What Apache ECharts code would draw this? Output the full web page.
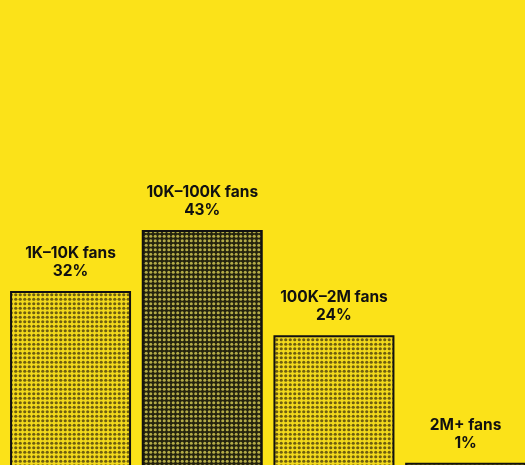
<!DOCTYPE html>
<html>
<head>
<meta charset="utf-8">
<script src="https://cdn.jsdelivr.net/npm/echarts@6/dist/echarts.min.js"></script>
<style>
  html, body { margin: 0; padding: 0; background: #FBE219; }
  #chart { width: 525px; height: 465px; }
</style>
</head>
<body>
<div id="chart"></div>
<script>
// Share of creators by audience size
const tiers = ['1K–10K fans', '10K–100K fans', '100K–2M fans', '2M+ fans'];
const shares = [32, 43, 24, 1];
const highlighted = [false, true, false, false];

// Halftone dot fill used for the bars
function halftone(bg, dot, r) {
  const c = document.createElement('canvas');
  const s = 9;
  c.width = s; c.height = s;
  const g = c.getContext('2d');
  g.fillStyle = bg;
  g.fillRect(0, 0, s, s);
  g.fillStyle = dot;
  const pts = [[2.25, 2.25], [6.75, 2.25], [2.25, 6.75], [6.75, 6.75]];
  pts.forEach(([x, y]) => {
    g.beginPath();
    g.arc(x, y, r, 0, Math.PI * 2);
    g.fill();
  });
  return { image: c, repeat: 'repeat' };
}

const lightFill = halftone('#F2D91C', '#6f5f10', 1.6);
const darkFill = halftone('#24230e', '#b3ab48', 1.55);

const chart = echarts.init(document.getElementById('chart'));
chart.setOption({
  backgroundColor: '#FBE219',
  animation: false,
  grid: {
    left: 4.7, top: 24.8, width: 526.8, height: 443.6,
    containLabel: false,
    outerBoundsMode: 'none'
  },
  xAxis: {
    type: 'category',
    data: tiers,
    show: false
  },
  yAxis: {
    type: 'value',
    min: 0,
    max: 80,
    show: false
  },
  series: [{
    type: 'bar',
    barWidth: 121,
    data: shares.map((v, i) => ({
      value: v,
      itemStyle: { color: highlighted[i] ? darkFill : lightFill }
    })),
    itemStyle: { borderColor: '#111', borderWidth: 2 },
    label: {
      show: true,
      position: 'top',
      distance: 11,
      formatter: p => p.name + '\n' + p.value + '%',
      fontFamily: 'Inter',
      fontWeight: 700,
      fontSize: 15.5,
      lineHeight: 18,
      color: '#111',
      align: 'center'
    }
  }]
});
</script>
</body>
</html>
